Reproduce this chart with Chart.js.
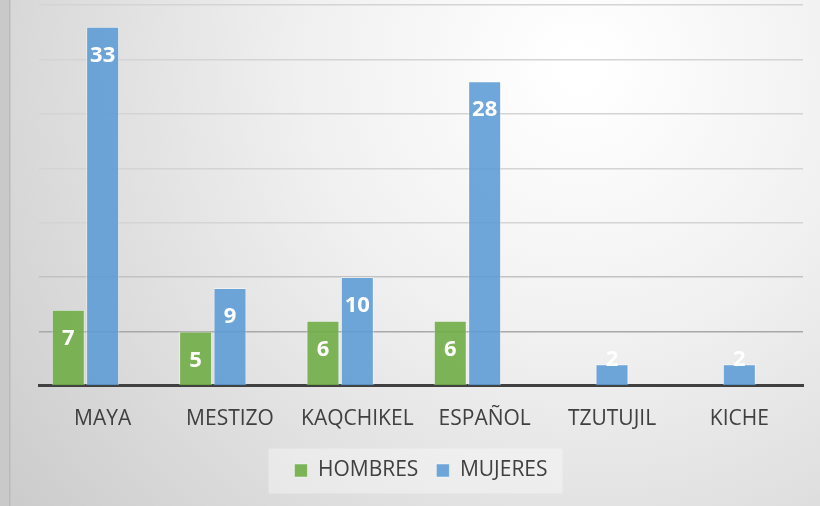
<!DOCTYPE html>
<html>
<head>
<meta charset="utf-8">
<script src="https://cdn.jsdelivr.net/npm/chart.js@4/dist/chart.umd.min.js"></script>
<style>
  html, body { margin: 0; padding: 0; background: #e6e6e6; }
  #wrap { width: 820px; height: 506px; position: relative; }
</style>
</head>
<body>
<div id="wrap"><canvas id="grupoChart"></canvas></div>
<script>
const categorias = ['MAYA', 'MESTIZO', 'KAQCHIKEL', 'ESPAÑOL', 'TZUTUJIL', 'KICHE'];
const hombres = [7, 5, 6, 6, null, null];
const mujeres = [33, 9, 10, 28, 2, 2];
// third (empty) series from the original sheet keeps the groups off-centre
const vacia = [null, null, null, null, null, null];
const yTicks = [0, 5, 10, 15, 20, 25, 30, 35];

// background gradient + legend panel
const fondo = {
  id: 'fondo',
  beforeDraw(chart) {
    const c = chart.ctx;
    const w = chart.width, h = chart.height;
    c.save();
    const g = c.createRadialGradient(580, 70, 20, 580, 70, 760);
    g.addColorStop(0, '#ffffff');
    g.addColorStop(0.35, '#f0f0f0');
    g.addColorStop(1, '#c8c8c8');
    c.fillStyle = g;
    c.fillRect(0, 0, w, h);
    // left strip
    c.fillStyle = '#c9c9c9';
    c.fillRect(0, 0, 9, h);
    c.fillStyle = '#bababa';
    c.fillRect(9, 0, 1.5, h);
    // legend panel
    const boxes = chart.legend && chart.legend.legendHitBoxes;
    if (boxes && boxes.length) {
      const left = Math.min(...boxes.map(b => b.left)) - 26;
      const right = Math.max(...boxes.map(b => b.left + b.width)) + 15;
      const mid = boxes[0].top + boxes[0].height / 2;
      c.fillStyle = 'rgba(255,255,255,0.35)';
      c.fillRect(left, mid - 22, right - left, 45);
    }
    c.restore();
  }
};

// white value labels near bar tops
const etiquetas = {
  id: 'etiquetas',
  afterDatasetsDraw(chart) {
    const c = chart.ctx;
    c.save();
    c.font = 'bold 22px "Open Sans"';
    c.fillStyle = '#ffffff';
    c.textAlign = 'center';
    c.textBaseline = 'middle';
    chart.data.datasets.forEach((ds, i) => {
      const meta = chart.getDatasetMeta(i);
      meta.data.forEach((bar, j) => {
        const v = ds.data[j];
        if (v === null || v === undefined) return;
        const alto = bar.base - bar.y;
        const y = alto < 40 ? bar.y - 4 : bar.y + 29;
        c.fillText(String(v), bar.x, y);
      });
    });
    c.restore();
  }
};

document.addEventListener('DOMContentLoaded', function () {
  const ctx = document.getElementById('grupoChart');
  new Chart(ctx, {
    type: 'bar',
    data: {
      labels: categorias,
      datasets: [
        {
          label: 'HOMBRES',
          data: hombres,
          backgroundColor: 'rgba(112, 173, 71, 0.9)',
          borderColor: 'rgba(255, 255, 255, 0.45)',
          borderWidth: 1,
        },
        {
          label: 'MUJERES',
          data: mujeres,
          backgroundColor: 'rgba(91, 155, 213, 0.88)',
          borderColor: 'rgba(255, 255, 255, 0.45)',
          borderWidth: 1,
        },
        {
          label: '',
          data: vacia,
          backgroundColor: 'rgba(0,0,0,0)',
        },
      ]
    },
    options: {
      responsive: true,
      maintainAspectRatio: false,
      animation: false,
      categoryPercentage: 0.81,
      barPercentage: 0.96,
      layout: { padding: { left: 39, right: 17, top: 5, bottom: 15 } },
      plugins: {
        legend: {
          display: true,
          position: 'bottom',
          labels: {
            filter: item => item.datasetIndex < 2,
            boxWidth: 13,
            boxHeight: 13,
            padding: 18,
            color: '#404040',
            font: { family: 'Open Sans', size: 21, lineHeight: 0.6 }
          }
        },
        title: { display: false },
        tooltip: { enabled: false }
      },
      scales: {
        x: {
          grid: { display: false, drawTicks: false },
          border: { display: true, color: '#404040', width: 3 },
          afterFit: scale => { scale.height = scale.height - 11; },
          ticks: {
            color: '#404040',
            padding: 33,
            font: { family: 'Open Sans', size: 21, lineHeight: 0.05 }
          }
        },
        y: {
          min: 0,
          max: 35,
          afterBuildTicks: axis => { axis.ticks = yTicks.map(v => ({ value: v })); },
          ticks: { display: false },
          border: { display: false },
          grid: {
            drawTicks: false,
            lineWidth: 1.5,
            color: c => {
              const v = c.tick ? c.tick.value : 35;
              if (v === 5) return '#a8a8a8';
              if (v === 10) return '#c2c2c2';
              return '#d4d4d4';
            }
          }
        }
      }
    },
    plugins: [fondo, etiquetas]
  });
});
</script>
</body>
</html>
